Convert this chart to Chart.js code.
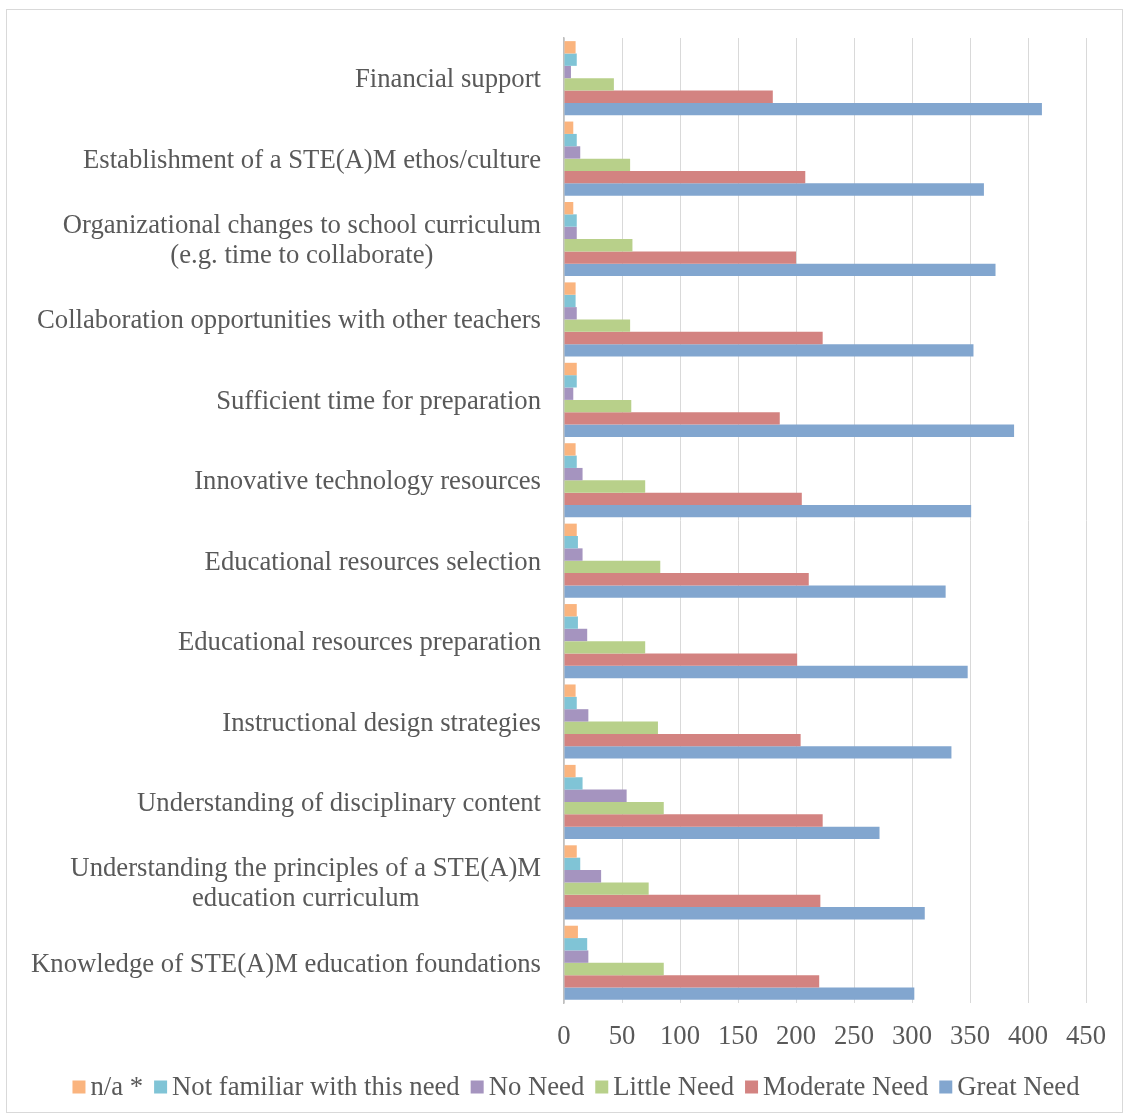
<!DOCTYPE html>
<html>
<head>
<meta charset="utf-8">
<script src="https://cdn.jsdelivr.net/npm/chart.js@4.4.1/dist/chart.umd.min.js"></script>
<style>
  body { margin: 0; background: #fff; }
  #wrap { position: relative; width: 1126px; height: 1117px; }
  #frame { position: absolute; left: 6px; top: 9px; width: 1115px; height: 1102px; border: 1px solid #d9d9d9; pointer-events: none; }
  canvas { position: absolute; left: 0; top: 0; }
</style>
</head>
<body>
<div id="wrap">
  <canvas id="chart" width="1126" height="1117"></canvas>
  <div id="frame"></div>
</div>
<script>
const categories = [
    ['Financial support'],
    ['Establishment of a STE(A)M ethos/culture'],
    ['Organizational changes to school curriculum', '(e.g. time to collaborate)'],
    ['Collaboration opportunities with other teachers'],
    ['Sufficient time for preparation'],
    ['Innovative technology resources'],
    ['Educational resources selection'],
    ['Educational resources preparation'],
    ['Instructional design strategies'],
    ['Understanding of disciplinary content'],
    ['Understanding the principles of a STE(A)M', 'education curriculum'],
    ['Knowledge of STE(A)M education foundations']
];

const seriesNames = ['n/a *', 'Not familiar with this need', 'No Need', 'Little Need', 'Moderate Need', 'Great Need'];

const naValues = [10, 8, 8, 10, 11, 10, 11, 11, 10, 10, 11, 12];
const notFamiliarValues = [11, 11, 11, 10, 11, 11, 12, 12, 11, 16, 14, 20];
const noNeedValues = [6, 14, 11, 11, 8, 16, 16, 20, 21, 54, 32, 21];
const littleNeedValues = [43, 57, 59, 57, 58, 70, 83, 70, 81, 86, 73, 86];
const moderateNeedValues = [180, 208, 200, 223, 186, 205, 211, 201, 204, 223, 221, 220];
const greatNeedValues = [412, 362, 372, 353, 388, 351, 329, 348, 334, 272, 311, 302];

const xTicks = [0, 50, 100, 150, 200, 250, 300, 350, 400, 450];

const colors = ['#fab47e', '#80c4d6', '#a594bf', '#b8d08a', '#d38381', '#82a6cf'];
const textColor = '#595959';
const fontFamily = '"Liberation Serif", "Times New Roman", serif';
const fontSize = 26.7;

const allValues = [naValues, notFamiliarValues, noNeedValues, littleNeedValues, moderateNeedValues, greatNeedValues];

// category labels: right-aligned block, lines centred inside it
const categoryLabels = {
    id: 'categoryLabels',
    afterDraw(chart) {
        const ctx = chart.ctx;
        const yScale = chart.scales.y;
        const right = chart.chartArea.left - 23;
        const lineHeight = 30;
        ctx.save();
        ctx.font = fontSize + 'px ' + fontFamily;
        ctx.fillStyle = textColor;
        ctx.textAlign = 'center';
        ctx.textBaseline = 'middle';
        categories.forEach((lines, i) => {
            const cy = yScale.getPixelForValue(i) + 2;
            const blockWidth = Math.max(...lines.map(l => ctx.measureText(l).width));
            const cx = right - blockWidth / 2;
            const top = cy - (lines.length - 1) * lineHeight / 2;
            lines.forEach((line, j) => ctx.fillText(line, cx, top + j * lineHeight));
        });
        ctx.restore();
    }
};

// bottom legend, tighter than the built-in one
const bottomLegend = {
    id: 'bottomLegend',
    afterDraw(chart) {
        const ctx = chart.ctx;
        const box = 13, textGap = 5, itemGap = 11, cy = 1088, centre = 576;
        ctx.save();
        ctx.font = fontSize + 'px ' + fontFamily;
        ctx.textBaseline = 'middle';
        ctx.textAlign = 'left';
        const items = chart.data.datasets.map(ds => ({
            text: ds.label, color: ds.backgroundColor, w: ctx.measureText(ds.label).width
        }));
        const total = items.reduce((s, it) => s + box + textGap + it.w, 0) + itemGap * (items.length - 1);
        let x = centre - total / 2;
        items.forEach(it => {
            ctx.fillStyle = it.color;
            ctx.fillRect(x, cy - box / 2 - 1, box, box);
            x += box + textGap;
            ctx.fillStyle = textColor;
            ctx.fillText(it.text, x, cy);
            x += it.w + itemGap;
        });
        ctx.restore();
    }
};

new Chart(document.getElementById('chart'), {
    type: 'bar',
    data: {
        labels: categories.map(c => c.join(' ')),
        datasets: seriesNames.map((name, i) => ({
            label: name,
            data: allValues[i],
            backgroundColor: colors[i],
            borderWidth: 0,
            categoryPercentage: 0.922,
            barPercentage: 1.0
        }))
    },
    options: {
        indexAxis: 'y',
        responsive: false,
        animation: false,
        layout: { padding: { left: 0, right: 40, top: 38, bottom: 46 } },
        scales: {
            x: {
                min: 0,
                max: 450,
                afterBuildTicks: scale => { scale.ticks = xTicks.map(v => ({ value: v })); },
                afterFit: scale => { scale.height = 68; },
                grid: { color: '#d9d9d9', lineWidth: 1, drawTicks: false },
                border: { display: false },
                ticks: {
                    padding: 18,
                    color: textColor,
                    font: { family: fontFamily, size: fontSize }
                }
            },
            y: {
                afterFit: scale => { scale.width = 564; },
                grid: { display: false },
                border: { display: true, color: '#bfbfbf', width: 1.5 },
                ticks: { display: false }
            }
        },
        plugins: {
            legend: { display: false },
            tooltip: { enabled: false }
        }
    },
    plugins: [categoryLabels, bottomLegend]
});
</script>
</body>
</html>
